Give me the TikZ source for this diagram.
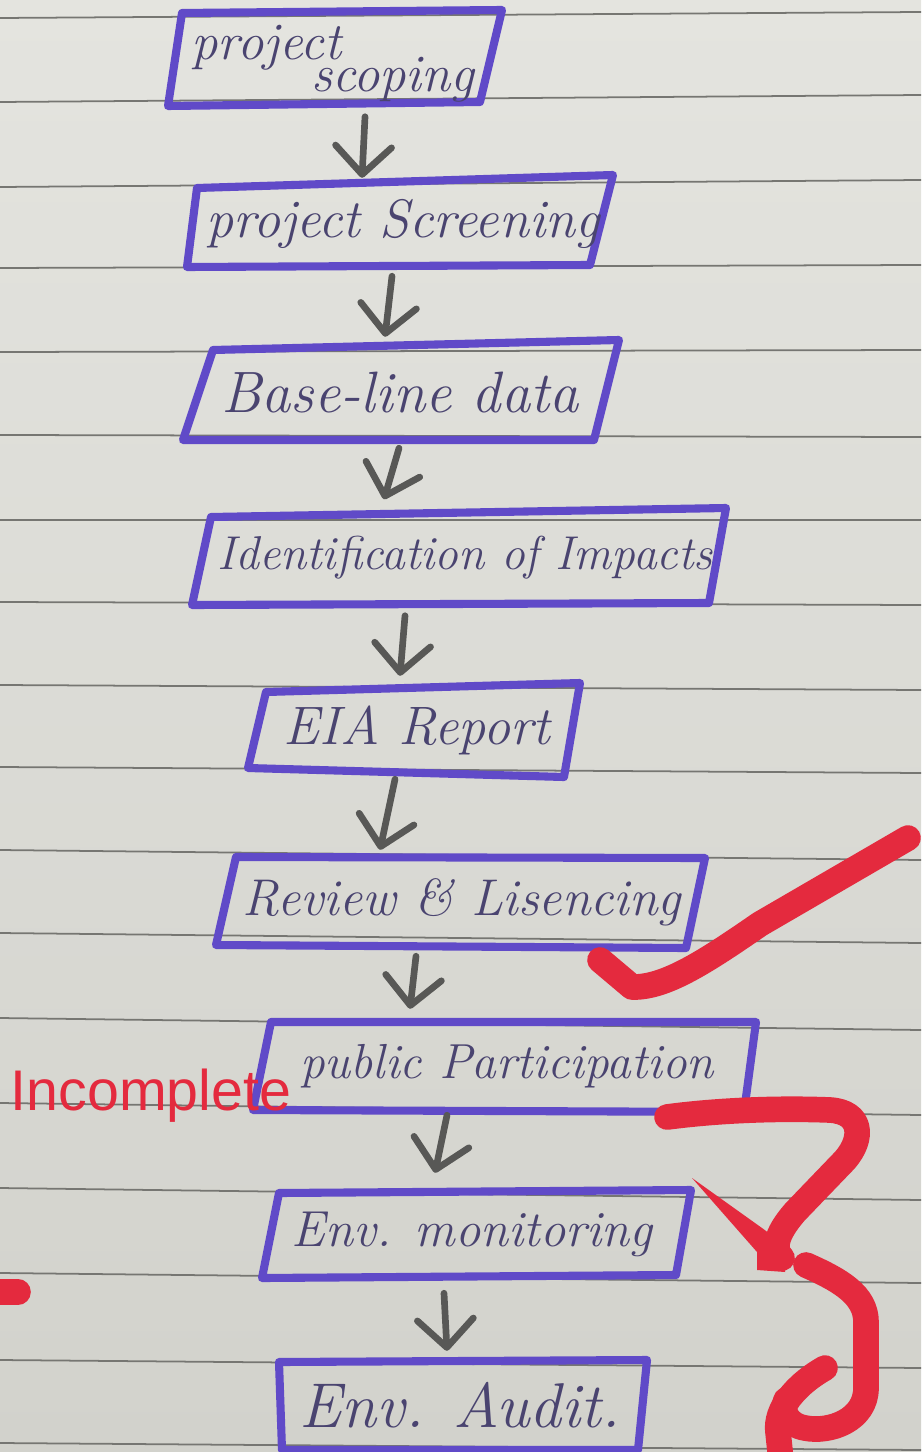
\documentclass[tikz,border=0pt]{standalone}
\usepackage{fontspec}
\newfontfamily\redsans{Liberation Sans}
\usetikzlibrary{arrows.meta,calc}
\definecolor{paper}{RGB}{228,228,223}
\definecolor{paperdark}{RGB}{210,210,204}
\definecolor{rule}{RGB}{118,118,114}
\definecolor{ink}{RGB}{96,74,200}
\definecolor{pencil}{RGB}{74,68,112}
\definecolor{marker}{RGB}{228,42,62}
\definecolor{graphite}{RGB}{88,88,86}
\newcommand\handsz[1]{\fontsize{#1}{18}\selectfont\itshape}
\begin{document}
\begin{tikzpicture}[x=0.01cm,y=-0.01cm,
  paperrule/.style={draw=rule,line width=0.5pt},
  boxline/.style={draw=ink,line width=2.3pt,line join=round,line cap=round},
  stage/.style={inner sep=0pt,text=pencil},
  arr/.style={draw=graphite,line width=1.9pt,line cap=round,
    -{Straight Barb[length=2.8mm,width=5.6mm,round]}},
  redstroke/.style={draw=marker,line width=7.3pt,line cap=round,line join=round}]
\useasboundingbox (0,0) rectangle (921,1452);
\clip (0,0) rectangle (921,1452);
\shade[top color=paper,bottom color=paperdark] (0,0) rectangle (921,1452);
% ruled lines of the paper
\foreach \yl/\yr in {18/12,102/95,187/180,268/265,352/350,435/437,520/520,602/605,685/690,767/773,850/860,933/943,1018/1030,1103/1115,1188/1200,1273/1283,1360/1368,1443/1450}
  \draw[paperrule] (0,\yl) -- (921,\yr);
% stage boxes (hand drawn outlines)
\draw[boxline] (182,13) -- (502,10) -- (480,102) -- (168,106) -- cycle;
\draw[boxline] (197,188) -- (613,175) -- (590,265) -- (187,267) -- cycle;
\draw[boxline] (213,350) -- (619,340) -- (594,440) -- (183,440) -- cycle;
\draw[boxline] (211,517) -- (726,508) -- (709,603) -- (192,605) -- cycle;
\draw[boxline] (266,692) -- (580,683) -- (564,777) -- (248,768) -- cycle;
\draw[boxline] (236,857) -- (705,858) -- (686,948) -- (216,945) -- cycle;
\draw[boxline] (271,1022) -- (756,1022) -- (744,1112) -- (253,1110) -- cycle;
\draw[boxline] (279,1193) -- (691,1190) -- (676,1275) -- (262,1278) -- cycle;
\draw[boxline] (279,1362) -- (647,1360) -- (638,1450) -- (282,1450) -- cycle;
% stage texts
\node[stage,minimum width=3.16cm,minimum height=0.92cm,align=left,font=\handsz{15}] (b1) at (333,64)
  {project\\[-9pt]\hspace*{34pt}scoping};
\node[stage,minimum width=4.10cm,minimum height=0.85cm,font=\handsz{15.4}] (b2) at (403,224) {project Screening};
\node[stage,minimum width=4.10cm,minimum height=0.95cm,font=\handsz{16.6}] (b3) at (400,393) {Base-line data};
\node[stage,minimum width=5.15cm,minimum height=0.92cm,font=\handsz{13.5}] (b4) at (465,558) {Identification of Impacts};
\node[stage,minimum width=3.15cm,minimum height=0.85cm,font=\handsz{15.4}] (b5) at (417,730) {EIA Report};
\node[stage,minimum width=4.70cm,minimum height=0.89cm,font=\handsz{14.7}] (b6) at (462,902) {Review \& Lisencing};
\node[stage,minimum width=4.88cm,minimum height=0.89cm,font=\handsz{14}] (b7) at (507,1066) {public Participation};
\node[stage,minimum width=4.13cm,minimum height=0.85cm,font=\handsz{14.4}] (b8) at (472,1234) {Env. monitoring};
\node[stage,minimum width=3.62cm,minimum height=0.89cm,font=\handsz{18}] (b9) at (460,1405) {Env. Audit.};
% connectors
\draw[arr] ($(b1.south)+(32,6)$) -- ($(b2.north)+(-41,-3)$);
\draw[arr] ($(b2.south)+(-11,9)$) -- ($(b3.north)+(-15,-8)$);
\draw[arr] ($(b3.south)+(-1,7)$) -- ($(b4.north)+(-81,-12)$);
\draw[arr] ($(b4.south)+(-60,11)$) -- ($(b5.north)+(-17,-11)$);
\draw[arr] ($(b5.south)+(-22,6)$) -- ($(b6.north)+(-82,-7)$);
\draw[arr] ($(b6.south)+(-46,9)$) -- ($(b7.north)+(-97,-12)$);
\draw[arr] ($(b7.south)+(-60,4)$) -- ($(b8.north)+(-37,-18)$);
\draw[arr] ($(b8.south)+(-28,16)$) -- ($(b9.north)+(-13,-9)$);
% red annotations
\draw[redstroke] (600,960) -- (632,987) .. controls (665,988) and (705,962) .. (760,924) -- (908,838);
\node[anchor=base west,inner sep=0pt,text=marker,font=\redsans\fontsize{16.3}{18}\selectfont] (inc) at (10,1110) {Incomplete};
\draw[redstroke] (-20,1292) -- (18,1292);
\draw[redstroke] (667,1117) .. controls (720,1110) and (780,1108) .. (830,1110)
  .. controls (862,1112) and (864,1138) .. (845,1160) -- (795,1212)
  .. controls (775,1235) and (773,1250) .. (782,1258);
\fill[marker] (692,1178) -- (762,1228) -- (785,1245) -- (785,1272) -- (757,1270) -- (757,1252) -- cycle;
\draw[redstroke] (806,1265) .. controls (840,1280) and (866,1295) .. (866,1322) -- (866,1388)
  .. controls (866,1420) and (830,1433) .. (805,1428) .. controls (788,1425) and (781,1412) .. (786,1400);
\draw[redstroke] (825,1368) .. controls (795,1385) and (775,1410) .. (778,1432) -- (782,1470);
\end{tikzpicture}
\end{document}
